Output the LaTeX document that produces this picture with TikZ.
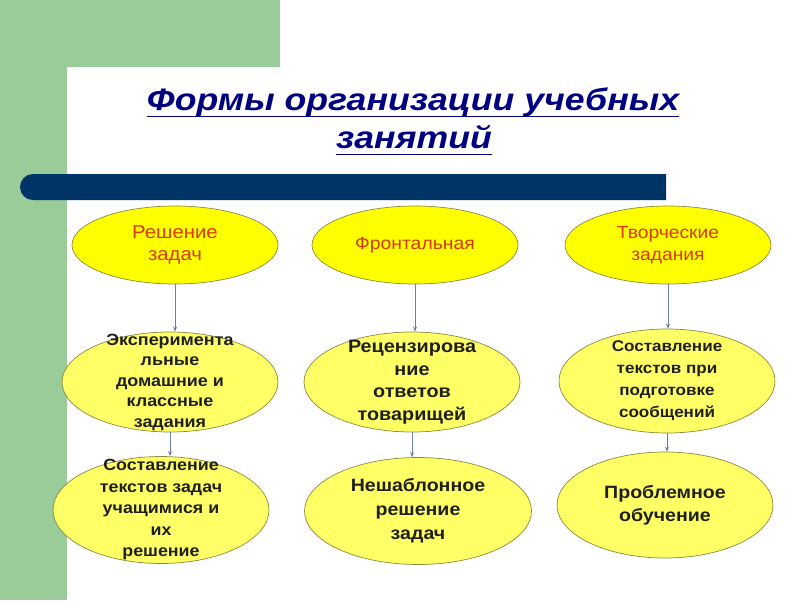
\documentclass[tikz,border=0pt]{standalone}
\usepackage{fontspec}
\setmainfont[FakeStretch=1.1]{Liberation Sans}
\newfontfamily\titlefont[FakeStretch=1.15]{Liberation Sans}
\usetikzlibrary{positioning,shapes.geometric,arrows.meta}

\definecolor{slidegreen}{HTML}{99CC99}
\definecolor{barblue}{HTML}{003366}
\definecolor{titleblue}{HTML}{000080}
\definecolor{formred}{HTML}{D63A00}
\definecolor{topyellow}{HTML}{FFFF00}
\definecolor{lowyellow}{HTML}{FFFF66}
\definecolor{rimolive}{HTML}{8A8A40}
\definecolor{linkgrey}{HTML}{6F7F9F}

\begin{document}
\begin{tikzpicture}[
                x=1pt,y=-1pt,
                form/.style={ellipse,draw=rimolive,line width=0.7pt,inner sep=0pt},
                topform/.style={form,fill=topyellow,minimum width=206,minimum height=78},
                lowform/.style={form,fill=lowyellow},
                toptext/.style args={#1/#2}{align=center,text=formred,inner sep=0pt,font=\fontsize{#1}{#2}\selectfont},
                lowtext/.style args={#1/#2}{align=center,text=black!88,inner sep=0pt,font=\bfseries\fontsize{#1}{#2}\selectfont},
                titletext/.style={anchor=base,inner sep=0pt,text=titleblue,font=\titlefont\bfseries\itshape\fontsize{31}{36}\selectfont},
                link/.style={draw=linkgrey,line width=0.8pt,-{Stealth[length=5pt,width=4pt]}}
            ]
                \useasboundingbox (0,0) rectangle (800,600);
                % background of the slide
                \fill[white] (0,0) rectangle (800,600);
                \fill[slidegreen] (0,0) rectangle (280,67);
                \fill[slidegreen] (0,0) rectangle (67,600);
                \fill[white] (67,640) -- (67,83) arc[start angle=180,end angle=270,radius=16] -- (320,67) -- (320,640) -- cycle;
                \fill[barblue] (666,174) -- (33,174) arc[start angle=270,end angle=90,radius=13] -- (666,200) -- cycle;

                % title
                \node[titletext] (t1) at (413,110) {Формы организации учебных};
                \node[titletext] (t2) at (414,148) {занятий};
                \draw[titleblue,line width=1.7pt] ([yshift=-6.5pt]t1.base west) -- ([yshift=-6.5pt]t1.base east);
                \draw[titleblue,line width=1.7pt] ([yshift=-6.5pt]t2.base west) -- ([yshift=-6.5pt]t2.base east);

                % forms
                \node[topform] (a1) at (175,245) {};
                \node[topform] (a2) at (415,245) {};
                \node[topform] (a3) at (668,245) {};
                \node[toptext=18.5/22.5] (a1t) at (a1) {Решение\\задач};
                \node[toptext=17.6/22.5] (a2t) at (a2) {Фронтальная};
                \node[toptext=17.5/22.5] (a3t) at (a3) {Творческие\\задания};

                \node[lowform,minimum width=216,minimum height=100] (b1) at (170,382) {};
                \node[lowform,minimum width=216,minimum height=100] (b2) at (412,382) {};
                \node[lowform,minimum width=216,minimum height=104] (b3) at (667,381) {};
                \node[lowtext=16.3/20.5] (b1t) at (b1) {Эксперимента\\льные\\домашние и\\классные\\задания};
                \node[lowtext=18/22.5] (b2t) at (b2) {Рецензирова\\ние\\ответов\\товарищей};
                \node[lowtext=15.5/22] (b3t) at (b3) {Составление\\текстов при\\подготовке\\сообщений};

                \node[lowform,minimum width=216,minimum height=107] (c1) at (161,510) {};
                \node[lowform,minimum width=227,minimum height=107] (c2) at (418,511) {};
                \node[lowform,minimum width=216,minimum height=106] (c3) at (665,505) {};
                \node[lowtext=16.2/21.5] (c1t) at (c1) {Составление\\текстов задач\\учащимися  и\\их\\решение};
                \node[lowtext=17.8/24] (c2t) at (c2) {Нешаблонное\\решение\\задач};
                \node[lowtext=17.8/23] (c3t) at (c3) {Проблемное\\обучение};

                % links
                \foreach \col in {1,2,3}{
                    \draw[link] (a\col.south) -- (a\col.south |- b\col.north);
                    \draw[link] (b\col.south) -- (b\col.south |- c\col.north);
                }
            \end{tikzpicture}
\end{document}
